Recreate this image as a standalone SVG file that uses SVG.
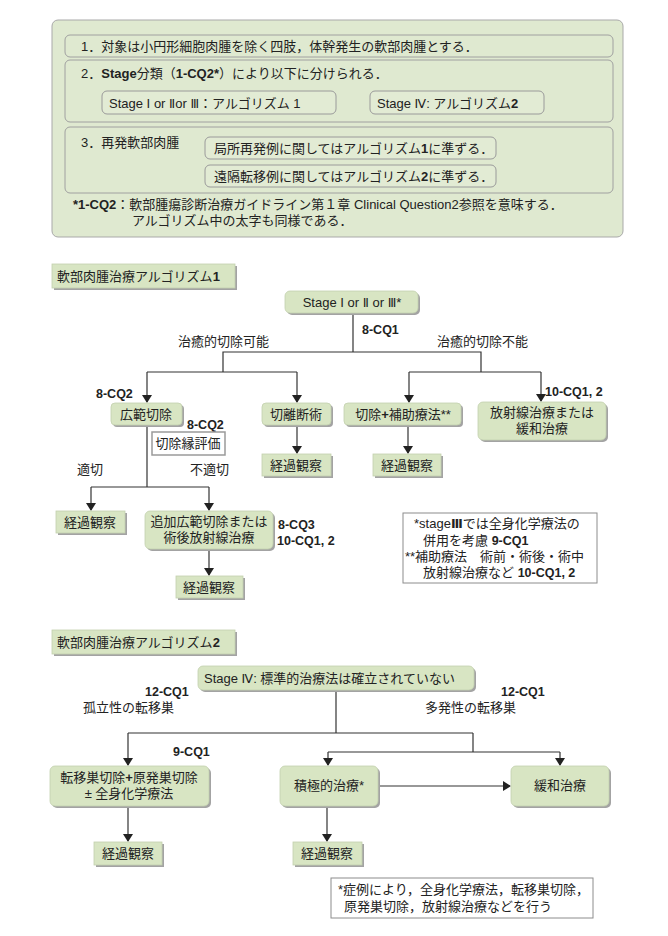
<svg xmlns="http://www.w3.org/2000/svg" width="668" height="936" viewBox="0 0 668 936">
<defs>
<marker id="ah" markerWidth="8" markerHeight="10" refX="7" refY="5" orient="auto" markerUnits="userSpaceOnUse">
<path d="M0,0 L8,5 L0,10 Z" fill="#222"/>
</marker>
</defs>
<style>
text{font-family:"Liberation Sans","Noto Sans CJK JP",sans-serif;font-size:13px;fill:#222}
.b{font-weight:bold}
.l{font-size:12.5px}
.rn{font-family:"DejaVu Sans","Liberation Sans",sans-serif;font-size:12.5px}
.m{text-anchor:middle}
.panel{fill:#dfe9d0;stroke:#a9a9a9;stroke-width:1}
.row{fill:#dfe9d0;stroke:#a0a0a0;stroke-width:1}
.sub{fill:#e2ebd4;stroke:#9a9a9a;stroke-width:1}
.nd{fill:#d8e5c3;stroke:#c3d0ae;stroke-width:0.8}
.sh{fill:#a3a3a3}
.note{fill:#fff;stroke:#8c8c8c;stroke-width:1}
.ln{fill:none;stroke:#333;stroke-width:1.2}
.ar{fill:none;stroke:#333;stroke-width:1.2;marker-end:url(#ah)}
</style>
<rect width="668" height="936" fill="#fff"/>

<g id="legend">
<rect x="52" y="20" width="571" height="217" rx="6" class="panel"/>
<rect x="65" y="35" width="548" height="22" rx="5" class="row"/>
<text x="81" y="51">1．対象は小円形細胞肉腫を除く四肢，体幹発生の軟部肉腫とする．</text>
<rect x="65" y="60" width="548" height="62" rx="5" class="row"/>
<text x="81" y="78">2．<tspan class="b">Stage</tspan>分類（<tspan class="b">1-CQ2*</tspan>）により以下に分けられる．</text>
<rect x="102" y="91" width="234" height="23" rx="5" class="sub"/>
<text x="109" y="108">Stage <tspan class="rn">Ⅰ</tspan> or <tspan class="rn">Ⅱ</tspan>or <tspan class="rn">Ⅲ</tspan>：アルゴリズム 1</text>
<rect x="370" y="91" width="174" height="23" rx="5" class="sub"/>
<text x="377" y="108">Stage <tspan class="rn">Ⅳ</tspan>: アルゴリズム<tspan class="b">2</tspan></text>
<rect x="65" y="127" width="548" height="66" rx="5" class="row"/>
<text x="81" y="147">3．再発軟部肉腫</text>
<rect x="205" y="137" width="291" height="22" rx="5" class="sub"/>
<text x="214" y="153">局所再発例に関してはアルゴリズム<tspan class="b">1</tspan>に準ずる．</text>
<rect x="205" y="165" width="291" height="22" rx="5" class="sub"/>
<text x="214" y="181">遠隔転移例に関してはアルゴリズム<tspan class="b">2</tspan>に準ずる．</text>
<text x="73" y="209"><tspan class="b">*1-CQ2</tspan>：軟部腫瘍診断治療ガイドライン第１章 Clinical Question2参照を意味する．</text>
<text x="132" y="225">アルゴリズム中の太字も同様である．</text>
</g>

<g id="title1">
<rect x="54" y="266" width="183" height="24" class="sh"/>
<rect x="52" y="264" width="183" height="24" class="nd"/>
<text x="57" y="281">軟部肉腫治療アルゴリズム<tspan class="b">1</tspan></text>
</g>

<g id="connectors">
<line x1="353" y1="314" x2="353" y2="352" class="ln"/>
<polyline points="223,372 223,352 481,352 481,372" class="ln"/>
<line x1="147" y1="372" x2="297" y2="372" class="ln"/>
<line x1="409" y1="372" x2="541" y2="372" class="ln"/>
<line x1="147" y1="372" x2="147" y2="402" class="ar"/>
<line x1="297" y1="372" x2="297" y2="402" class="ar"/>
<line x1="409" y1="372" x2="409" y2="402" class="ar"/>
<line x1="541" y1="372" x2="541" y2="401" class="ar"/>
<line x1="147" y1="426" x2="147" y2="487" class="ln"/>
<line x1="91" y1="487" x2="209" y2="487" class="ln"/>
<line x1="91" y1="487" x2="91" y2="510" class="ar"/>
<line x1="209" y1="487" x2="209" y2="510" class="ar"/>
<line x1="209" y1="549" x2="209" y2="575" class="ar"/>
<line x1="297" y1="426" x2="297" y2="453" class="ar"/>
<line x1="408" y1="426" x2="408" y2="453" class="ar"/>

<line x1="336" y1="690" x2="336" y2="733" class="ln"/>
<line x1="128" y1="733" x2="473" y2="733" class="ln"/>
<line x1="473" y1="733" x2="473" y2="752" class="ln"/>
<line x1="328" y1="752" x2="560" y2="752" class="ln"/>
<line x1="128" y1="733" x2="128" y2="765" class="ar"/>
<line x1="328" y1="752" x2="328" y2="765" class="ar"/>
<line x1="560" y1="752" x2="560" y2="765" class="ar"/>
<line x1="378" y1="786" x2="510" y2="786" class="ar"/>
<line x1="128" y1="806" x2="128" y2="841" class="ar"/>
<line x1="327" y1="806" x2="327" y2="841" class="ar"/>
</g>

<g id="labels1">
<text x="362" y="334" class="b l">8-CQ1</text>
<text x="178" y="346">治癒的切除可能</text>
<text x="437" y="346">治癒的切除不能</text>
<text x="96" y="398" class="b l">8-CQ2</text>
<text x="545" y="396" class="b l">10-CQ1, 2</text>
<text x="187" y="429" class="b l">8-CQ2</text>
<text x="77" y="474">適切</text>
<text x="190" y="474">不適切</text>
<text x="278" y="529" class="b l">8-CQ3</text>
<text x="277" y="545" class="b l">10-CQ1, 2</text>
</g>

<g id="n-stage123">
<rect x="287" y="293" width="133" height="22" rx="5" class="sh"/>
<rect x="285" y="291" width="133" height="22" rx="5" class="nd"/>
<text x="352" y="307" class="m">Stage <tspan class="rn">Ⅰ</tspan> or <tspan class="rn">Ⅱ</tspan> or <tspan class="rn">Ⅲ</tspan>*</text>
</g>
<g id="n-kouhan">
<rect x="113" y="405" width="71" height="22" rx="4" class="sh"/>
<rect x="111" y="403" width="71" height="22" rx="4" class="nd"/>
<text x="146" y="419" class="m">広範切除</text>
</g>
<g id="n-setsujoen">
<rect x="152" y="432" width="73" height="23" fill="#fff" stroke="#9a9a9a" stroke-width="1.5"/>
<text x="188" y="448" class="m">切除縁評価</text>
</g>
<g id="n-setsuri">
<rect x="264" y="405" width="69" height="22" rx="4" class="sh"/>
<rect x="262" y="403" width="69" height="22" rx="4" class="nd"/>
<text x="296" y="419" class="m">切離断術</text>
</g>
<g id="n-hojo">
<rect x="346" y="405" width="117" height="22" rx="4" class="sh"/>
<rect x="344" y="403" width="117" height="22" rx="4" class="nd"/>
<text x="403" y="419" class="m">切除<tspan class="b">+</tspan>補助療法**</text>
</g>
<g id="n-houshasen">
<rect x="480" y="404" width="128" height="38" rx="5" class="sh"/>
<rect x="478" y="402" width="128" height="38" rx="5" class="nd"/>
<text x="542" y="417" class="m">放射線治療または</text>
<text x="542" y="433" class="m">緩和治療</text>
</g>
<g id="n-keika1">
<rect x="264" y="456" width="69" height="22" class="sh"/>
<rect x="262" y="454" width="69" height="22" class="nd"/>
<text x="296" y="470" class="m">経過観察</text>
</g>
<g id="n-keika2">
<rect x="375" y="456" width="68" height="22" class="sh"/>
<rect x="373" y="454" width="68" height="22" class="nd"/>
<text x="407" y="470" class="m">経過観察</text>
</g>
<g id="n-keika3">
<rect x="58" y="513" width="69" height="22" class="sh"/>
<rect x="56" y="511" width="69" height="22" class="nd"/>
<text x="90" y="527" class="m">経過観察</text>
</g>
<g id="n-tsuika">
<rect x="147" y="513" width="128" height="38" rx="5" class="sh"/>
<rect x="145" y="511" width="128" height="38" rx="5" class="nd"/>
<text x="209" y="526" class="m">追加広範切除または</text>
<text x="209" y="542" class="m">術後放射線治療</text>
</g>
<g id="n-keika4">
<rect x="178" y="578" width="67" height="22" class="sh"/>
<rect x="176" y="576" width="67" height="22" class="nd"/>
<text x="209" y="592" class="m">経過観察</text>
</g>
<g id="note1">
<rect x="403" y="513" width="194" height="70" class="note"/>
<text x="414" y="528">*stage<tspan class="rn b">Ⅲ</tspan>では全身化学療法の</text>
<text x="423" y="545">併用を考慮 <tspan class="b l">9-CQ1</tspan></text>
<text x="405" y="561">**補助療法　術前・術後・術中</text>
<text x="423" y="577">放射線治療など <tspan class="b l">10-CQ1, 2</tspan></text>
</g>

<g id="title2">
<rect x="54" y="632" width="183" height="24" class="sh"/>
<rect x="52" y="630" width="183" height="24" class="nd"/>
<text x="57" y="647">軟部肉腫治療アルゴリズム<tspan class="b">2</tspan></text>
</g>

<g id="labels2">
<text x="145" y="696" class="b l">12-CQ1</text>
<text x="83" y="712">孤立性の転移巣</text>
<text x="501" y="696" class="b l">12-CQ1</text>
<text x="425" y="712">多発性の転移巣</text>
<text x="173" y="756" class="b l">9-CQ1</text>
</g>

<g id="n-stage4">
<rect x="200" y="668" width="276" height="24" rx="5" class="sh"/>
<rect x="198" y="666" width="276" height="24" rx="5" class="nd"/>
<text x="204" y="683">Stage <tspan class="rn">Ⅳ</tspan>: 標準的治療法は確立されていない</text>
</g>
<g id="n-teni">
<rect x="52" y="768" width="159" height="40" rx="5" class="sh"/>
<rect x="50" y="766" width="159" height="40" rx="5" class="nd"/>
<text x="129" y="782" class="m">転移巣切除<tspan class="b">+</tspan>原発巣切除</text>
<text x="129" y="798" class="m">± 全身化学療法</text>
</g>
<g id="n-sekkyoku">
<rect x="282" y="768" width="98" height="40" rx="5" class="sh"/>
<rect x="280" y="766" width="98" height="40" rx="5" class="nd"/>
<text x="329" y="790" class="m">積極的治療*</text>
</g>
<g id="n-kanwa">
<rect x="513" y="768" width="98" height="40" rx="5" class="sh"/>
<rect x="511" y="766" width="98" height="40" rx="5" class="nd"/>
<text x="560" y="790" class="m">緩和治療</text>
</g>
<g id="n-keika5">
<rect x="96" y="844" width="68" height="23" class="sh"/>
<rect x="94" y="842" width="68" height="23" class="nd"/>
<text x="128" y="858" class="m">経過観察</text>
</g>
<g id="n-keika6">
<rect x="295" y="844" width="69" height="23" class="sh"/>
<rect x="293" y="842" width="69" height="23" class="nd"/>
<text x="327" y="858" class="m">経過観察</text>
</g>
<g id="note2">
<rect x="331" y="878" width="262" height="40" class="note"/>
<text x="338" y="894">*症例により，全身化学療法，転移巣切除，</text>
<text x="344" y="911">原発巣切除，放射線治療などを行う</text>
</g>
</svg>
